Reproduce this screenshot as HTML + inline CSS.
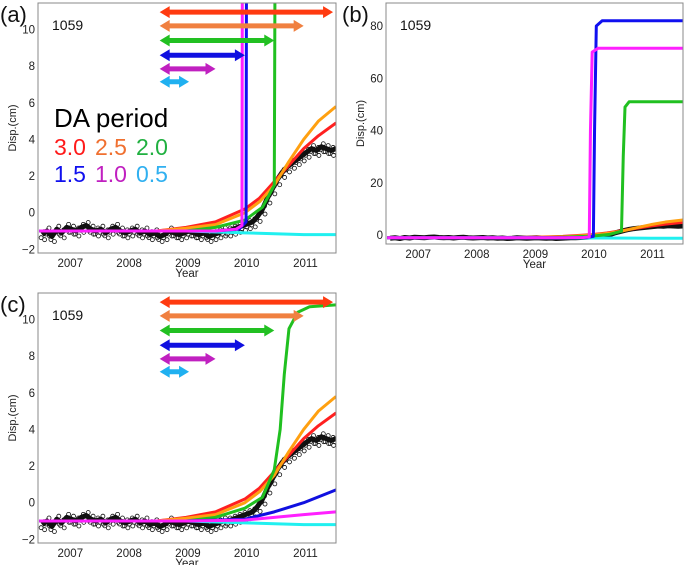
<!DOCTYPE html>
<html><head><meta charset="utf-8"><style>
html,body{margin:0;padding:0;background:#fff;}
svg{display:block;font-family:"Liberation Sans",sans-serif;}
</style></head><body>
<svg id="fig" width="685" height="565" viewBox="0 0 685 565" xmlns="http://www.w3.org/2000/svg"></svg>
<script>
const NS="http://www.w3.org/2000/svg";
const yearTicks=[2007,2008,2009,2010,2011];
const obsStart=2006.55;
const obsValues=[-1.2,-1.0,-1.3,-0.9,-1.1,-0.8,-0.9,-1.0,-0.8,-0.7,-0.9,-1.0,-0.9,-1.1,-0.9,-0.8,-1.0,-1.1,-1.0,-0.9,-1.1,-1.0,-1.2,-1.1,-1.3,-1.2,-1.0,-1.1,-1.2,-1.1,-1.0,-1.1,-1.2,-1.1,-1.3,-1.2,-1.1,-1.0,-1.0,-0.9,-0.8,-0.7,-0.6,-0.5,-0.2,0.2,0.8,1.3,1.8,2.2,2.5,2.7,2.9,3.1,3.3,3.5,3.4,3.6,3.5,3.4,3.5];
const redX=[2006.5,2008.5,2009,2009.5,2010,2010.25,2010.5,2010.75,2011,2011.25,2011.55];
const redY=[-1,-1,-0.8,-0.5,0.2,0.8,1.7,2.6,3.5,4.2,4.9];
const orangeX=[2006.5,2008.5,2009,2009.5,2010,2010.25,2010.5,2010.75,2011,2011.25,2011.55];
const orangeY=[-1,-1,-0.85,-0.65,0,0.6,1.5,2.8,4.0,5.0,5.8];
const cyanX=[2006.5,2009,2010,2011,2011.55];
const cyanY=[-1,-1,-1.1,-1.2,-1.2];
const greenAX=[2006.5,2009,2009.5,2010,2010.3,2010.5,2010.53,2010.56,2010.63,2011.55];
const greenAY=[-1,-1,-0.8,-0.4,0.3,1.5,30,49,51,51];
const blueAX=[2006.5,2009.5,2009.9,2010.02,2010.04,2010.07,2010.17,2011.55];
const blueAY=[-1,-1,-0.9,-0.5,40,80,82,82];
const magAX=[2006.5,2009.5,2009.85,2009.95,2009.97,2010.0,2010.1,2011.55];
const magAY=[-1,-1,-0.9,-0.7,40,70,71.5,71.5];
const greenCX=[2006.5,2009,2009.5,2010,2010.3,2010.5,2010.6,2010.67,2010.75,2010.9,2011.1,2011.55];
const greenCY=[-1,-1,-0.8,-0.3,0.3,1.8,4,7,9.5,10.4,10.7,10.8];
const blueCX=[2006.5,2009,2010,2010.5,2011,2011.55];
const blueCY=[-1,-1,-0.9,-0.5,0,0.7];
const magCX=[2006.5,2009,2010,2010.5,2011,2011.55];
const magCY=[-1,-1,-0.95,-0.8,-0.65,-0.5];
const arrowStart=2008.55;
const arrowLen=[2.95,2.45,1.95,1.45,0.95,0.5];
const arrowY=[10.95,10.2,9.4,8.6,7.85,7.15];
const arrowCol=["#ff3a10","#f08040","#22c022","#1010e0","#c020c0","#20b0f0"];
const arrowNames=["3.0","2.5","2.0","1.5","1.0","0.5"];

const svg=document.getElementById('fig');
function el(tag,attrs,parent,text){const e=document.createElementNS(NS,tag);for(const k in attrs)e.setAttribute(k,attrs[k]);if(text!==undefined)e.textContent=text;(parent||svg).appendChild(e);return e;}

function panel(cfg){
  const g=el('g',{});
  
  
  const x=v=>cfg.x0+(v-2006.48)/(2011.55-2006.48)*(cfg.x1-cfg.x0);
  const y=v=>cfg.y1-(v-cfg.ymin)/(cfg.ymax-cfg.ymin)*(cfg.y1-cfg.y0);
  const cp=el('clipPath',{id:'clip'+cfg.id},g);
  el('rect',{x:cfg.x0,y:cfg.y0,width:cfg.x1-cfg.x0,height:cfg.y1-cfg.y0},cp);
  const pl=el('text',{x:cfg.lx,y:cfg.y0+19,'font-size':22,fill:'#111'},g,'('+cfg.id+')');
  
  const sid=el('text',{x:cfg.x0+14,y:cfg.y0+27,'font-size':14,fill:'#111'},g,'1059');
  
  cfg.yticks.forEach(t=>{
    const tt=el('text',{x:cfg.x0-3,y:y(t)+4,'font-size':11.5,'text-anchor':'end',fill:'#222'},g,t<0?'\u2212'+(-t):String(t));
    
  });
  yearTicks.forEach(t=>{
    const tt=el('text',{x:x(t+0.03),y:cfg.y1+14,'font-size':11.5,'text-anchor':'middle',fill:'#222'},g,String(t));
    
  });
  const xt=el('text',{x:(cfg.x0+cfg.x1)/2,y:cfg.y1+24,'font-size':11.5,'text-anchor':'middle',fill:'#222'},g,'Year');
  
  const cy=(cfg.y0+cfg.y1)/2;
  const yt=el('text',{x:cfg.x0-22,y:cy,'font-size':11,'text-anchor':'middle',fill:'#222',transform:`rotate(-90 ${cfg.x0-22} ${cy})`},g,'Disp.(cm)');
  
  const pg=el('g',{'clip-path':`url(#clip${cfg.id})`},g);
  const pts=obsValues.map((v,i)=>[x(obsStart+i/12),y(v)]);
  const ol=el('polyline',{points:pts.map(p=>p.join(',')).join(' '),fill:'none',stroke:'#111','stroke-width':cfg.obsW,'stroke-linejoin':'round'},pg);
  
  if(cfg.circles){pts.forEach(p=>{
    const c=el('circle',{cx:p[0]-1,cy:p[1]+3,r:2,fill:'none',stroke:'#111','stroke-width':0.8},pg);
    
    const c2=el('circle',{cx:p[0]+2,cy:p[1]-3,r:2,fill:'none',stroke:'#111','stroke-width':0.8},pg);
    
    const c3=el('circle',{cx:p[0]+2.5,cy:p[1]+5,r:2,fill:'none',stroke:'#111','stroke-width':0.8},pg);
    
  });}
  cfg.series.forEach(s=>{
    const l=el('polyline',{points:s.xs.map((v,i)=>x(v)+','+y(s.ys[i])).join(' '),fill:'none',stroke:s.c,'stroke-width':3,'stroke-linejoin':'round'},pg);
    
  });
  if(cfg.arrows){arrowLen.forEach((len,i)=>{
    const a=x(arrowStart),b=x(arrowStart+len),yy=y(arrowY[i]),h=6,w=10;
    const p=el('polygon',{points:`${a},${yy} ${a+w},${yy-h} ${a+w},${yy-2.5} ${b-w},${yy-2.5} ${b-w},${yy-h} ${b},${yy} ${b-w},${yy+h} ${b-w},${yy+2.5} ${a+w},${yy+2.5} ${a+w},${yy+h}`,fill:arrowCol[i]},g);
    
  });}
  const fr=el('rect',{x:cfg.x0,y:cfg.y0,width:cfg.x1-cfg.x0,height:cfg.y1-cfg.y0,fill:'none',stroke:'#888','stroke-width':1},g);
  
}
const baseSeries=[{n:'red',xs:redX,ys:redY,c:'#ff2020'},{n:'orange',xs:orangeX,ys:orangeY,c:'#ffa010'},{n:'cyan',xs:cyanX,ys:cyanY,c:'#20f0f0'}];
panel({id:'a',lx:0,x0:38,x1:336,y0:3,y1:253,ymin:-2.2,ymax:11.45,yticks:[-2,0,2,4,6,8,10],obsW:5,circles:true,arrows:true,
  series:[...baseSeries,{n:'green',xs:greenAX,ys:greenAY,c:'#20c020'},{n:'blue',xs:blueAX,ys:blueAY,c:'#1010f0'},{n:'magenta',xs:magAX,ys:magAY,c:'#ff20ff'}]});
panel({id:'b',lx:342,x0:386,x1:683,y0:3,y1:244,ymin:-3.4,ymax:88.8,yticks:[0,20,40,60,80],obsW:5,circles:false,arrows:false,
  series:[...baseSeries,{n:'green',xs:greenAX,ys:greenAY,c:'#20c020'},{n:'blue',xs:blueAX,ys:blueAY,c:'#1010f0'},{n:'magenta',xs:magAX,ys:magAY,c:'#ff20ff'}]});
panel({id:'c',lx:0,x0:38,x1:336,y0:293,y1:543,ymin:-2.2,ymax:11.45,yticks:[-2,0,2,4,6,8,10],obsW:5,circles:true,arrows:true,
  series:[...baseSeries,{n:'green',xs:greenCX,ys:greenCY,c:'#20c020'},{n:'blue',xs:blueCX,ys:blueCY,c:'#1010e0'},{n:'magenta',xs:magCX,ys:magCY,c:'#ff20ff'}]});
const lg=el('g',{});

el('text',{x:54,y:127,'font-size':26,fill:'#000'},lg,'DA period');
const legCols=["#ff1a1a","#f07030","#20b040","#1010ee","#c020c0","#30b0f0"];
arrowNames.forEach((n,i)=>{
  const t=el('text',{x:54+(i%3)*41,y:i<3?155:182,'font-size':23,fill:legCols[i]},lg,n);
  
});
</script>
</body></html>
